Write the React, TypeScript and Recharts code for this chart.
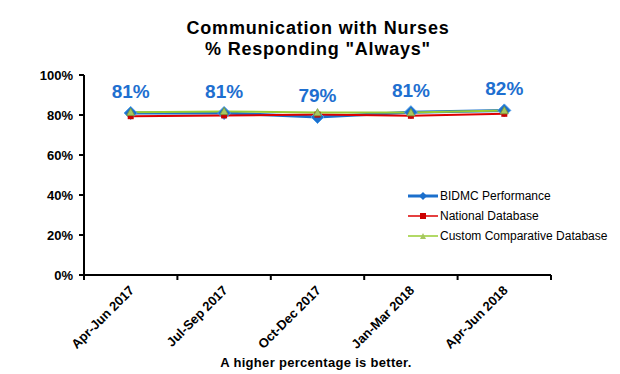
import React from "react";
import { LineChart, Line, XAxis, YAxis, LabelList } from "recharts";

const categories = ["Apr-Jun 2017", "Jul-Sep 2017", "Oct-Dec 2017", "Jan-Mar 2018", "Apr-Jun 2018"];
const bidmc = [81, 81, 79, 81.4, 82.3];
const national = [79.4, 79.8, 80.2, 79.6, 80.6];
const custom = [81.4, 81.8, 81.2, 81.2, 82.2];
const yTicks = [0, 20, 40, 60, 80, 100];
const boundaryTicks = [0, 1, 2, 3, 4, 5];

const seriesNames = ["BIDMC Performance", "National Database", "Custom Comparative Database"];

const data = categories.map((c, i) => ({
  cat: c,
  bidmc: bidmc[i],
  national: national[i],
  custom: custom[i],
}));

const W = 620;
const H = 374;
const ML = 84;
const MR = 69;
const MT = 75;
const MB = 99;
const BH = 6;
const FONT = "'Liberation Sans', Arial, sans-serif";
const BLUE = "#1B6FCC";
const RED = "#DD0000";
const GREEN = "#99CC33";

const XLabel = (props: any) => {
  const { x, y, payload } = props;
  const px = Number(x);
  const py = Number(y);
  return (
    <text
      x={px + 1}
      y={py + 7}
      dy="0.35em"
      textAnchor="end"
      transform={`rotate(-45, ${px + 1}, ${py + 7})`}
      fontFamily={FONT}
      fontWeight="bold"
      fontSize={13}
      fill="#000"
    >
      {payload.value}
    </text>
  );
};

const Diamond = (props: any) => {
  const { cx, cy, index } = props;
  const r = 6.5;
  return (
    <path
      key={`d${index}`}
      d={`M${cx},${cy - r}L${cx + r},${cy}L${cx},${cy + r}L${cx - r},${cy}Z`}
      fill={BLUE}
      stroke="#4A9BE8"
      strokeWidth={1}
    />
  );
};

const Square = (props: any) => {
  const { cx, cy, index } = props;
  const r = 3;
  return <rect key={`s${index}`} x={cx - r} y={cy - r} width={2 * r} height={2 * r} fill="#CC0000" />;
};

const Triangle = (props: any) => {
  const { cx, cy, index } = props;
  const r = 4;
  return (
    <path
      key={`t${index}`}
      d={`M${cx},${cy - r}L${cx + r},${cy + r * 0.8}L${cx - r},${cy + r * 0.8}Z`}
      fill="#A6C860"
      stroke="#7A9A3A"
      strokeWidth={0.8}
    />
  );
};

const TopLabel = (props: any) => {
  const { x, y, value } = props;
  return (
    <text
      x={x}
      y={y - 15}
      textAnchor="middle"
      fontFamily={FONT}
      fontWeight="bold"
      fontSize={19}
      fill="#1E6FD0"
    >
      {`${Math.round(value)}%`}
    </text>
  );
};

const LegendBox = () => {
  const colors = [BLUE, RED, GREEN];
  return (
    <div
      style={{
        position: "absolute",
        left: 408,
        top: 186,
        width: 210,
        fontFamily: FONT,
        fontSize: 12,
        color: "#000",
      }}
    >
      {seriesNames.map((n, i) => (
        <div key={n} style={{ display: "flex", alignItems: "center", height: 20 }}>
          <svg width={30} height={10} style={{ marginRight: 2 }}>
            <line x1={0} x2={30} y1={5} y2={5} stroke={colors[i]} strokeWidth={i === 0 ? 3 : 1.5} />
            {i === 0 && <path d="M15,1L19,5L15,9L11,5Z" fill={BLUE} />}
            {i === 1 && <rect x={12} y={2} width={6} height={6} fill="#CC0000" />}
            {i === 2 && <path d="M15,2L18,8L12,8Z" fill="#A6C860" />}
          </svg>
          <span>{n}</span>
        </div>
      ))}
    </div>
  );
};

export default function App() {
  return (
    <div style={{ position: "absolute", left: 0, top: 0, width: W, height: H, background: "#fff" }}>
      <LineChart width={W} height={H} data={data} margin={{ left: 0, right: MR, top: MT, bottom: 0 }}>
        <XAxis
          xAxisId="bounds"
          type="number"
          dataKey={() => 0}
          domain={[0, 5]}
          ticks={boundaryTicks}
          allowDataOverflow
          height={BH}
          tick={{ fill: "none", fontSize: 1 }}
          tickFormatter={() => ""}
          tickSize={5}
          tickMargin={0}
          axisLine={{ stroke: "#000", strokeWidth: 2 }}
          tickLine={{ stroke: "#000", strokeWidth: 2 }}
        />
        <XAxis
          xAxisId="cat"
          dataKey="cat"
          scale="band"
          height={MB - BH}
          tickLine={false}
          tickSize={0}
          tickMargin={0}
          axisLine={false}
          tick={(p: any) => <XLabel {...p} />}
          interval={0}
        />
        <YAxis
          width={ML}
          domain={[0, 100]}
          ticks={yTicks}
          tickFormatter={(v: number) => `${v}%`}
          tickSize={5}
          tickMargin={6}
          axisLine={{ stroke: "#000", strokeWidth: 2 }}
          tickLine={{ stroke: "#000", strokeWidth: 2 }}
          tick={{ fontFamily: FONT, fontWeight: "bold", fontSize: 13, fill: "#000" }}
        />
        <Line
          xAxisId="cat"
          dataKey="bidmc"
          name={seriesNames[0]}
          stroke={BLUE}
          strokeWidth={3}
          dot={Diamond}
          isAnimationActive={false}
        >
          <LabelList dataKey="bidmc" content={TopLabel} />
        </Line>
        <Line
          xAxisId="cat"
          dataKey="national"
          name={seriesNames[1]}
          stroke={RED}
          strokeWidth={2}
          dot={Square}
          isAnimationActive={false}
        />
        <Line
          xAxisId="cat"
          dataKey="custom"
          name={seriesNames[2]}
          stroke={GREEN}
          strokeWidth={2}
          dot={Triangle}
          isAnimationActive={false}
        />
      </LineChart>
      <div
        style={{
          position: "absolute",
          left: 0,
          top: 18,
          width: 636,
          textAlign: "center",
          fontFamily: FONT,
          fontWeight: "bold",
          fontSize: 18,
          letterSpacing: 0.8,
          lineHeight: "21px",
          color: "#000",
        }}
      >
        Communication with Nurses
        <br />% Responding "Always"
      </div>
      <LegendBox />
      <div
        style={{
          position: "absolute",
          left: 0,
          top: 355,
          width: 632,
          textAlign: "center",
          fontFamily: FONT,
          fontWeight: "bold",
          fontSize: 13,
          letterSpacing: 0.3,
          color: "#000",
        }}
      >
        A higher percentage is better.
      </div>
    </div>
  );
}
